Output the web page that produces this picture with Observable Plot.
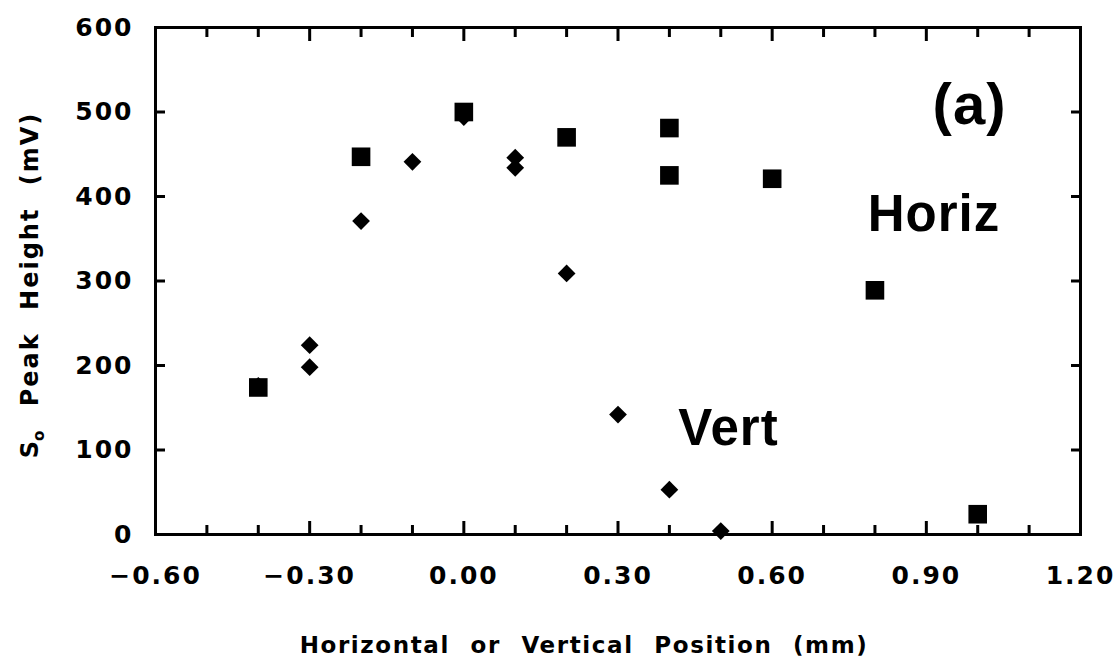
<!DOCTYPE html>
<html>
<head>
<meta charset="utf-8">
<script src="https://cdn.jsdelivr.net/npm/d3@7"></script>
<script src="https://cdn.jsdelivr.net/npm/@observablehq/plot@0.6"></script>
<style>
  html, body { margin: 0; padding: 0; background: #fff; }
  #chart svg { display: block; }
</style>
</head>
<body>
<div id="chart"></div>
<script>
// Horizontal scan (squares)
const horizX = [-0.4, -0.2, 0.0, 0.2, 0.4, 0.4, 0.6, 0.8, 1.0];
const horizY = [174, 447, 500, 470, 481, 425, 421, 289, 24];
// Vertical scan (diamonds)
const vertX = [-0.4, -0.3, -0.3, -0.2, -0.1, 0.0, 0.1, 0.1, 0.2, 0.3, 0.4, 0.5];
const vertY = [176, 224, 198, 371, 441, 494, 446, 434, 309, 142, 53, 4];

const xTickValues = [-0.6, -0.3, 0.0, 0.3, 0.6, 0.9, 1.2];
const xMinorTicks = [-0.5, -0.4, -0.2, -0.1, 0.1, 0.2, 0.4, 0.5, 0.7, 0.8, 1.0, 1.1];
const yTickValues = [0, 100, 200, 300, 400, 500, 600];

const annotations = [
  {x: 0.984, y: 508, text: "(a)", size: 58},
  {x: 0.915, y: 378, text: "Horiz", size: 51},
  {x: 0.515, y: 125, text: "Vert", size: 51}
];

const horiz = horizX.map((x, i) => ({x, y: horizY[i]}));
const vert = vertX.map((x, i) => ({x, y: vertY[i]}));

const W = 1117, H = 661;
const plot = Plot.plot({
  width: W,
  height: H,
  marginLeft: 155,
  marginRight: 37,
  marginTop: 27,
  marginBottom: 127,
  style: {fontFamily: "'DejaVu Sans', sans-serif", background: "#fff"},
  x: {domain: [-0.6, 1.2]},
  y: {domain: [0, 600]},
  marks: [
    Plot.axisX(xMinorTicks, {anchor: "bottom", tickSize: -9, text: null, strokeWidth: 3, label: null}),
    Plot.axisX(xMinorTicks, {anchor: "top", tickSize: -9, text: null, strokeWidth: 3, label: null}),
    Plot.axisX(xTickValues, {anchor: "bottom", tickSize: -13, text: null, strokeWidth: 3, label: null}),
    Plot.axisX(xTickValues, {anchor: "top", tickSize: -13, text: null, strokeWidth: 3, label: null}),
    Plot.axisY(yTickValues, {anchor: "left", tickSize: -10, text: null, strokeWidth: 3, label: null}),
    Plot.axisY(yTickValues, {anchor: "right", tickSize: -10, text: null, strokeWidth: 3, label: null}),
    Plot.axisX(xTickValues, {anchor: "bottom", tickSize: 0, tickPadding: 32, tickFormat: d3.format(".2f"),
      fontSize: 25, fontWeight: "bold", label: null}),
    Plot.axisY(yTickValues, {anchor: "left", tickSize: 0, tickPadding: 22, tickFormat: d => String(d),
      fontSize: 25, fontWeight: "bold", label: null}),
    Plot.frame({stroke: "#000", strokeWidth: 3}),
    Plot.dot(horiz, {x: "x", y: "y", symbol: "square", r: 10.5, fill: "#000", stroke: "none"}),
    Plot.dot(vert, {x: "x", y: "y", symbol: "diamond2", r: 8, fill: "#000", stroke: "none"}),
    Plot.text(annotations, {x: "x", y: "y", text: "text", fontSize: d => d.size, fontWeight: "bold",
      fontFamily: "'Liberation Sans', Arial, sans-serif", fill: "#000", textAnchor: "middle", lineAnchor: "middle"})
  ]
});

const svg = d3.select(plot);
svg.selectAll("[aria-label='x-axis tick label'] text, [aria-label='y-axis tick label'] text")
  .style("letter-spacing", "2px");
svg.selectAll("[aria-label='text'] text").style("letter-spacing", "1px");

// x axis title
svg.append("text")
  .attr("x", 584).attr("y", 653)
  .attr("text-anchor", "middle")
  .attr("font-family", "'DejaVu Sans', sans-serif")
  .attr("font-weight", "bold")
  .attr("font-size", 23)
  .attr("letter-spacing", 1.6)
  .attr("word-spacing", 11)
  .text("Horizontal or Vertical Position (mm)");

// y axis title
const yt = svg.append("text")
  .attr("transform", "translate(38,285) rotate(-90)")
  .attr("text-anchor", "middle")
  .attr("font-family", "'DejaVu Sans', sans-serif")
  .attr("font-weight", "bold")
  .attr("font-size", 24)
  .attr("letter-spacing", 2)
  .attr("word-spacing", 12);
yt.append("tspan").text("S");
yt.append("tspan").attr("font-size", 15).attr("dy", 6).attr("dx", -2).text("o");
yt.append("tspan").attr("dy", -6).text(" Peak Height (mV)");

document.getElementById("chart").appendChild(plot);
</script>
</body>
</html>
